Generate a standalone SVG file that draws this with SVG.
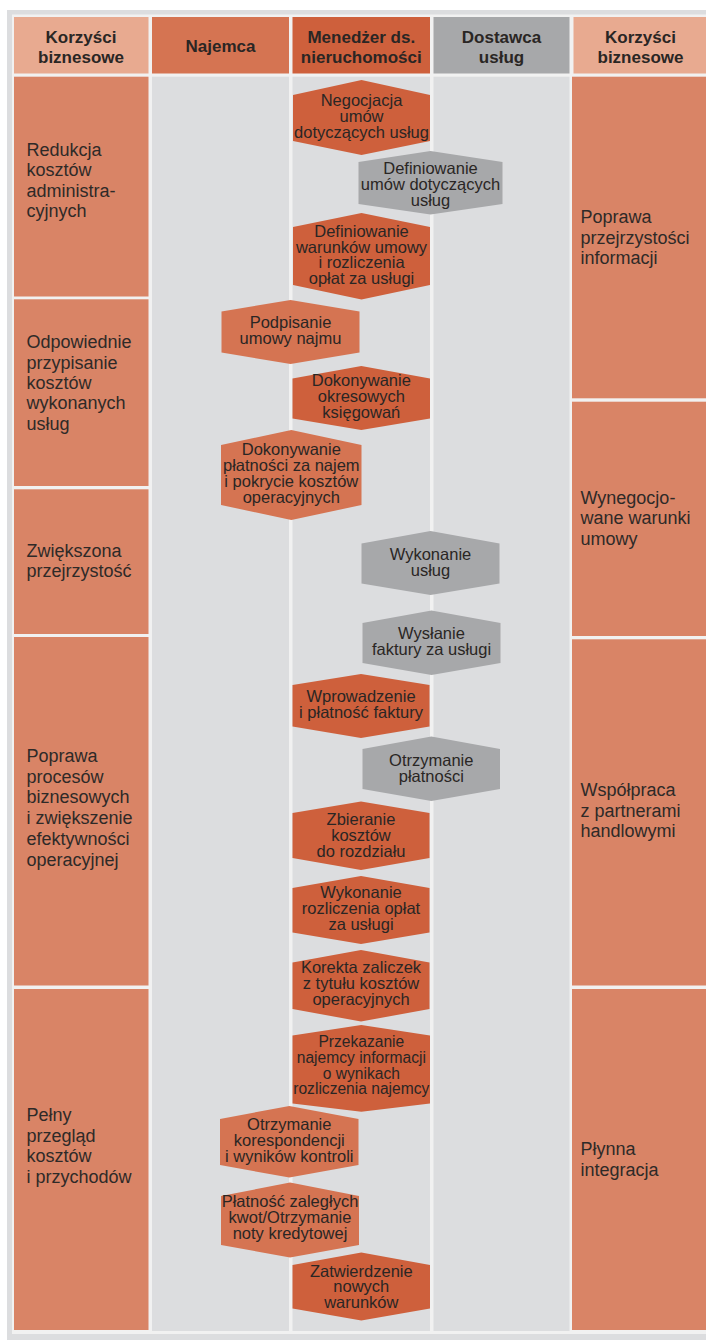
<svg xmlns="http://www.w3.org/2000/svg" width="706" height="1340" viewBox="0 0 706 1340">
<style>
.bg{fill:#dcdddf}
.sep{fill:#f1f1f1}
.lane{fill:#dcdddf}
.bh{fill:#e8aa90}
.bb{fill:#d98466}
.hn{fill:#d57452}
.hm{fill:#ce603c}
.hg{fill:#a7a8aa}
.ht{font-family:"Liberation Sans",Arial,sans-serif;font-weight:bold;font-size:17px;fill:#2a2624;text-anchor:middle}
.bt{font-family:"Liberation Sans",Arial,sans-serif;font-size:18px;fill:#2e2a28}
.nt{font-family:"Liberation Sans",Arial,sans-serif;font-size:16.5px;fill:#2a2624;text-anchor:middle}
</style>
<rect x="0" y="0" width="706" height="1340" fill="#ffffff"/>
<rect class="bg" x="7" y="10" width="699" height="1330"/>
<rect class="sep" x="12" y="14.5" width="694" height="1319.5"/>
<g id="headers">
  <g id="h-benefits-left"><rect class="bh" x="14" y="17" width="134.5" height="56.5"/><text class="ht" x="81" y="43.3">Korzyści<tspan x="81" y="62.7">biznesowe</tspan></text></g>
  <g id="h-najemca"><rect class="hn" x="152" y="17" width="137" height="56.5"/><text class="ht" x="220.5" y="51.5">Najemca</text></g>
  <g id="h-menedzer"><rect class="hm" x="292.5" y="17" width="137.5" height="56.5"/><text class="ht" x="361.3" y="43.3">Menedżer ds.<tspan x="361.3" y="62.7">nieruchomości</tspan></text></g>
  <g id="h-dostawca"><rect class="hg" x="433.5" y="17" width="136" height="56.5"/><text class="ht" x="501.5" y="43.3">Dostawca<tspan x="501.5" y="62.7">usług</tspan></text></g>
  <g id="h-benefits-right"><rect class="bh" x="573.5" y="17" width="132.5" height="56.5"/><text class="ht" x="640.5" y="43.3">Korzyści<tspan x="640.5" y="62.7">biznesowe</tspan></text></g>
</g>
<g id="lanes">
  <rect class="lane" x="152" y="76.7" width="137" height="1254.3"/>
  <rect class="lane" x="292.5" y="76.7" width="137.5" height="1254.3"/>
  <rect class="lane" x="433.5" y="76.7" width="136" height="1254.3"/>
</g>
<g id="benefits-left">
  <g id="bl1"><rect class="bb" x="14" y="76.7" width="134.5" height="219.8"/><text class="bt"><tspan x="26.5" y="155.5">Redukcja</tspan><tspan x="26.5" y="176">kosztów</tspan><tspan x="26.5" y="196.5">administra-</tspan><tspan x="26.5" y="217">cyjnych</tspan></text></g>
  <g id="bl2"><rect class="bb" x="14" y="299.3" width="134.5" height="186.7"/><text class="bt"><tspan x="26.5" y="348.3">Odpowiednie</tspan><tspan x="26.5" y="368.6">przypisanie</tspan><tspan x="26.5" y="388.9">kosztów</tspan><tspan x="26.5" y="409.2">wykonanych</tspan><tspan x="26.5" y="429.5">usług</tspan></text></g>
  <g id="bl3"><rect class="bb" x="14" y="489.3" width="134.5" height="144.7"/><text class="bt"><tspan x="26.5" y="556.7">Zwiększona</tspan><tspan x="26.5" y="577">przejrzystość</tspan></text></g>
  <g id="bl4"><rect class="bb" x="14" y="637" width="134.5" height="348.5"/><text class="bt"><tspan x="26.5" y="762">Poprawa</tspan><tspan x="26.5" y="782.7">procesów</tspan><tspan x="26.5" y="803.4">biznesowych</tspan><tspan x="26.5" y="824.1">i zwiększenie</tspan><tspan x="26.5" y="844.8">efektywności</tspan><tspan x="26.5" y="865.5">operacyjnej</tspan></text></g>
  <g id="bl5"><rect class="bb" x="14" y="989" width="134.5" height="341"/><text class="bt"><tspan x="26.5" y="1121.4">Pełny</tspan><tspan x="26.5" y="1141.9">przegląd</tspan><tspan x="26.5" y="1162.4">kosztów</tspan><tspan x="26.5" y="1182.9">i przychodów</tspan></text></g>
</g>
<g id="benefits-right">
  <g id="br1"><rect class="bb" x="572" y="76.7" width="134" height="321.6"/><text class="bt"><tspan x="580.5" y="223.3">Poprawa</tspan><tspan x="580.5" y="243.6">przejrzystości</tspan><tspan x="580.5" y="263.9">informacji</tspan></text></g>
  <g id="br2"><rect class="bb" x="572" y="401.7" width="134" height="234.3"/><text class="bt"><tspan x="580.5" y="504">Wynegocjo-</tspan><tspan x="580.5" y="524.3">wane warunki</tspan><tspan x="580.5" y="544.6">umowy</tspan></text></g>
  <g id="br3"><rect class="bb" x="572" y="639.3" width="134" height="346.2"/><text class="bt"><tspan x="580.5" y="796">Współpraca</tspan><tspan x="580.5" y="816.5">z partnerami</tspan><tspan x="580.5" y="837">handlowymi</tspan></text></g>
  <g id="br4"><rect class="bb" x="572" y="989" width="134" height="341"/><text class="bt"><tspan x="580.5" y="1155.4">Płynna</tspan><tspan x="580.5" y="1175.8">integracja</tspan></text></g>
</g>
<g id="connectors"></g>
<g id="steps">
  <g id="s1"><polygon class="hm" points="361.5,80 430,95 430,141 361.5,155 293,141 293,95"/><text class="nt"><tspan x="361.5" y="106">Negocjacja</tspan><tspan x="361.5" y="121.8">umów</tspan><tspan x="361.5" y="137.6">dotyczących usług</tspan></text></g>
  <g id="s2"><polygon class="hg" points="430.5,151 502.5,162 502.5,204 430.5,214.5 358.5,204 358.5,162"/><text class="nt"><tspan x="430.5" y="174.2">Definiowanie</tspan><tspan x="430.5" y="190.1">umów dotyczących</tspan><tspan x="430.5" y="206">usług</tspan></text></g>
  <g id="s3"><polygon class="hm" points="361.5,213 430,227 430,285 361.5,299.5 293,285 293,227"/><text class="nt"><tspan x="361.5" y="236.6">Definiowanie</tspan><tspan x="361.5" y="252.5">warunków umowy</tspan><tspan x="361.5" y="268.4">i rozliczenia</tspan><tspan x="361.5" y="284.3">opłat za usługi</tspan></text></g>
  <g id="s4"><polygon class="hn" points="290.5,300 359.5,311.5 359.5,352.5 290.5,364 221.5,352.5 221.5,311.5"/><text class="nt"><tspan x="290.5" y="328">Podpisanie</tspan><tspan x="290.5" y="344">umowy najmu</tspan></text></g>
  <g id="s5"><polygon class="hm" points="361.3,366 430,378.5 430,418.5 361.3,430 292.5,418.5 292.5,378.5"/><text class="nt"><tspan x="361.3" y="385.5">Dokonywanie</tspan><tspan x="361.3" y="401.5">okresowych</tspan><tspan x="361.3" y="417.5">księgowań</tspan></text></g>
  <g id="s6"><polygon class="hn" points="291.3,430 361.5,445 361.5,505 291.3,520 221,505 221,445"/><text class="nt"><tspan x="291.3" y="455.2">Dokonywanie</tspan><tspan x="291.3" y="471.1">płatności za najem</tspan><tspan x="291.3" y="487">i pokrycie kosztów</tspan><tspan x="291.3" y="502.9">operacyjnych</tspan></text></g>
  <g id="s7"><polygon class="hg" points="430.5,531 499.5,543.5 499.5,583.5 430.5,595 361.5,583.5 361.5,543.5"/><text class="nt"><tspan x="430.5" y="559.7">Wykonanie</tspan><tspan x="430.5" y="575.7">usług</tspan></text></g>
  <g id="s8"><polygon class="hg" points="431.5,610.5 500.5,623 500.5,663 431.5,675 362.5,663 362.5,623"/><text class="nt"><tspan x="431.5" y="639">Wysłanie</tspan><tspan x="431.5" y="655">faktury za usługi</tspan></text></g>
  <g id="s9"><polygon class="hm" points="361,674 429.5,685 429.5,726.5 361,738 292.5,726.5 292.5,685"/><text class="nt"><tspan x="361" y="701.7">Wprowadzenie</tspan><tspan x="361" y="717.7">i płatność faktury</tspan></text></g>
  <g id="s10"><polygon class="hg" points="431.3,736.5 500,749 500,789 431.3,801 362.5,789 362.5,749"/><text class="nt"><tspan x="431.3" y="765.8">Otrzymanie</tspan><tspan x="431.3" y="781.8">płatności</tspan></text></g>
  <g id="s11"><polygon class="hm" points="361,801.5 429.5,813 429.5,858 361,870 292.5,858 292.5,813"/><text class="nt"><tspan x="361" y="825">Zbieranie</tspan><tspan x="361" y="841.2">kosztów</tspan><tspan x="361" y="857.4">do rozdziału</tspan></text></g>
  <g id="s12"><polygon class="hm" points="361,876 429.5,888 429.5,932.5 361,944 292.5,932.5 292.5,888"/><text class="nt"><tspan x="361" y="898.3">Wykonanie</tspan><tspan x="361" y="914.3">rozliczenia opłat</tspan><tspan x="361" y="930.3">za usługi</tspan></text></g>
  <g id="s13"><polygon class="hm" points="361,950 429.5,962.5 429.5,1009 361,1021.5 292.5,1009 292.5,962.5"/><text class="nt"><tspan x="361" y="973.1">Korekta zaliczek</tspan><tspan x="361" y="989.1">z tytułu kosztów</tspan><tspan x="361" y="1005.1">operacyjnych</tspan></text></g>
  <g id="s14"><polygon class="hm" points="361.3,1025 430,1035.5 430,1103.5 361.3,1111.7 292.5,1103.5 292.5,1035.5"/><text class="nt" style="font-size:15.6px"><tspan x="361.3" y="1047.2">Przekazanie</tspan><tspan x="361.3" y="1062.9">najemcy informacji</tspan><tspan x="361.3" y="1078.6">o wynikach</tspan><tspan x="361.3" y="1094.3">rozliczenia najemcy</tspan></text></g>
  <g id="s15"><polygon class="hn" points="289.3,1106 358.5,1119 358.5,1165 289.3,1177.5 220,1165 220,1119"/><text class="nt"><tspan x="289.3" y="1130.4">Otrzymanie</tspan><tspan x="289.3" y="1146.2">korespondencji</tspan><tspan x="289.3" y="1162">i wyników kontroli</tspan></text></g>
  <g id="s16"><polygon class="hn" points="290,1182.5 359,1196 359,1245 290,1257.5 221,1245 221,1196"/><text class="nt"><tspan x="290" y="1207.3">Płatność zaległych</tspan><tspan x="290" y="1223.3">kwot/Otrzymanie</tspan><tspan x="290" y="1239.3">noty kredytowej</tspan></text></g>
  <g id="s17"><polygon class="hm" points="361.3,1252.5 430,1265 430,1308.5 361.3,1320.5 292.5,1308.5 292.5,1265"/><text class="nt"><tspan x="361.3" y="1276.5">Zatwierdzenie</tspan><tspan x="361.3" y="1292.4">nowych</tspan><tspan x="361.3" y="1308.3">warunków</tspan></text></g>
</g>
</svg>
